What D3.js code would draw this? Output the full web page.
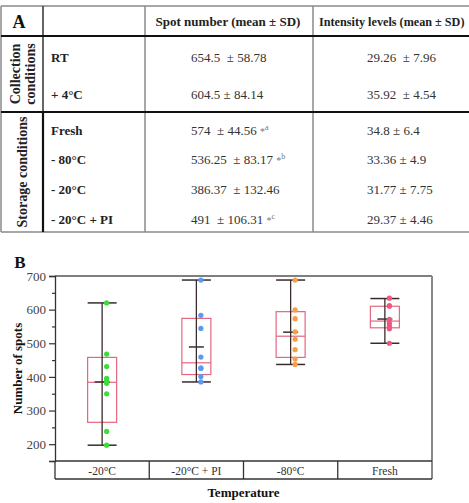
<!DOCTYPE html>
<html><head><meta charset="utf-8">
<script src="https://cdn.jsdelivr.net/npm/d3@7"></script>
<style>
html,body{margin:0;padding:0;background:#fff;}
svg{display:block;}
text{font-family:"Liberation Serif","Times New Roman",serif;}
</style></head>
<body><svg id="c" width="469" height="503"></svg>
<script>
(function(){
// ---------- Table data ----------
const tableHeaders = ["Spot number (mean \u00b1 SD)", "Intensity levels (mean \u00b1 SD)"];
const sectionLabels = [["Collection", "conditions"], ["Storage conditions"]];
const rowLabels = ["RT", "+ 4\u00b0C", "Fresh", "- 80\u00b0C", "- 20\u00b0C", "- 20\u00b0C + PI"];
const spotText = ["654.5 \u00a0\u00b1 58.78", "604.5 \u00b1 84.14", "574 \u00a0\u00b1 44.56 ", "536.25 \u00a0\u00b1 83.17 ", "386.37 \u00a0\u00b1 132.46", "491 \u00a0\u00b1 106.31 "];
const spotMark = ["", "", "*a", "*b", "", "*c"];
const intensityText = ["29.26 \u00a0\u00b1 7.96", "35.92 \u00a0\u00b1 4.54", "34.8 \u00b1 6.4", "33.36 \u00b1 4.9", "31.77 \u00b1 7.75", "29.37 \u00b1 4.46"];

// ---------- Chart data ----------
const categories = ["-20\u00b0C", "-20\u00b0C + PI", "-80\u00b0C", "Fresh"];
const whiskerLow = [197, 385, 437, 500];
const q1 = [265, 407, 458, 546];
const median = [384, 442, 521, 566];
const q3 = [458, 574, 594, 610];
const whiskerHigh = [620, 688, 688, 633];
const means = [385, 489, 533, 572];
const pointsM20 = [620, 468, 431, 396, 388, 381, 350, 238, 197];
const pointsM20PI = [688, 583, 544, 459, 426, 426, 401, 385];
const pointsM80 = [688, 599, 573, 534, 512, 481, 453, 437];
const pointsFresh = [634, 612, 610, 571, 559, 551, 543, 500];
const pointSets = [pointsM20, pointsM20PI, pointsM80, pointsFresh];
const pointColors = ["#3ddc3d", "#5b9bef", "#f5a048", "#f2557e"];
const majorTicks = [200, 300, 400, 500, 600, 700];
const minorTicks = [150, 250, 350, 450, 550, 650];

const svg = d3.select("#c");

function line(g, x1, y1, x2, y2, col, w) {
  g.append("line").attr("x1", x1).attr("y1", y1).attr("x2", x2).attr("y2", y2)
    .attr("stroke", col).attr("stroke-width", w);
}

// ================= TABLE =================
const T = svg.append("g");
const tTop = 6, tHead = 36, tMid = 112, tBot = 232;
const cx0 = 1, cx1 = 43, cx2 = 145, cx3 = 313, cxEnd = 469;
const rowY = [57, 94, 130, 159.5, 189.5, 219];

line(T, cx0, tTop, cxEnd, tTop, "#8a8a8a", 1.5);
line(T, cx0, tTop, cx0, tBot, "#8a8a8a", 1.5);
line(T, cx0, tBot, cxEnd, tBot, "#8a8a8a", 1.5);
line(T, cx2, tTop, cx2, tBot, "#8a8a8a", 1.5);
line(T, cx3, tTop, cx3, tBot, "#8a8a8a", 1.5);
line(T, cx1, tTop, cx1, tMid, "#333", 1.5);
line(T, cx1, tMid, cx1, tBot, "#111", 2.2);
line(T, cx0, tHead, cxEnd, tHead, "#111", 2);
line(T, cx0, tMid, cxEnd, tMid, "#111", 2);

T.append("text").attr("x", 19).attr("y", 28).attr("text-anchor", "middle")
  .attr("font-size", 18).attr("font-weight", "bold").attr("fill", "#111").text("A");
T.append("text").attr("x", (cx2 + cx3) / 2 - 1).attr("y", 26).attr("text-anchor", "middle")
  .attr("font-size", 13).attr("font-weight", "bold").attr("fill", "#222").text(tableHeaders[0]);
T.append("text").attr("x", 319).attr("y", 26)
  .attr("font-size", 12.2).attr("font-weight", "bold").attr("fill", "#222").text(tableHeaders[1]);

const secCenters = [(tHead + tMid) / 2, (tMid + tBot) / 2];
sectionLabels.forEach((lines, i) => {
  const xs = lines.length === 2 ? [15, 30] : [22.5];
  lines.forEach((s, j) => {
    T.append("text")
      .attr("transform", `translate(${xs[j]},${secCenters[i]}) rotate(-90)`)
      .attr("text-anchor", "middle").attr("dominant-baseline", "central")
      .attr("font-size", 14).attr("font-weight", "bold").attr("fill", "#222").text(s);
  });
});

rowLabels.forEach((s, i) => {
  T.append("text").attr("x", 51).attr("y", rowY[i] + 4.5)
    .attr("font-size", 13).attr("font-weight", "bold").attr("fill", "#222").text(s);
  const t = T.append("text").attr("x", 191).attr("y", rowY[i] + 4.5)
    .attr("font-size", 13).attr("fill", "#333");
  t.append("tspan").text(spotText[i]);
  if (spotMark[i]) {
    t.append("tspan").attr("fill", "#777").attr("font-size", 10).text(spotMark[i][0]);
    t.append("tspan").attr("fill", "#777").attr("font-size", 8).attr("dy", -5).text(spotMark[i].slice(1));
  }
  T.append("text").attr("x", 367).attr("y", rowY[i] + 4.5)
    .attr("font-size", 13).attr("fill", "#333").text(intensityText[i]);
});

// ================= CHART =================
const C = svg.append("g");
const pL = 55, pR = 432, pT = 276, pB = 461, catB = 479;
const y = d3.scaleLinear().domain([150, 700]).range([pB, pT]);
const x = d3.scaleBand().domain(categories).range([pL, pR]).padding(0);

C.append("text").attr("x", 20).attr("y", 268).attr("text-anchor", "middle")
  .attr("font-size", 17).attr("font-weight", "bold").attr("fill", "#111").text("B");

line(C, pL, pT, pR, pT, "#555", 1.3);
line(C, pR, pT, pR, catB, "#888", 2);
line(C, pL, pB, pR, pB, "#333", 1.3);
line(C, pL, catB, pR, catB, "#333", 1.3);
line(C, pL, pB, pL, catB, "#333", 1.3);
categories.slice(1).forEach(c => line(C, x(c), pB, x(c), catB, "#333", 1.3));

const ax = C.append("g").attr("transform", `translate(${pL},0)`)
  .call(d3.axisLeft(y).tickValues(majorTicks).tickSize(6).tickPadding(3));
ax.select(".domain").attr("stroke", "#333").attr("stroke-width", 1.3);
ax.selectAll(".tick line").attr("stroke", "#333").attr("stroke-width", 1.2);
ax.selectAll(".tick text").attr("font-size", 13).attr("fill", "#444")
  .attr("font-family", "'Liberation Serif','Times New Roman',serif");
const axm = C.append("g").attr("transform", `translate(${pL},0)`)
  .call(d3.axisLeft(y).tickValues(minorTicks).tickSize(3).tickFormat(""));
axm.select(".domain").remove();
axm.selectAll(".tick line").attr("stroke", "#333").attr("stroke-width", 1.2);

categories.forEach(c => {
  C.append("text").attr("x", x(c) + x.bandwidth() / 2).attr("y", 474.5)
    .attr("text-anchor", "middle").attr("font-size", 11.5).attr("fill", "#333").text(c);
});

C.append("text").attr("transform", `translate(17,${(pT + pB) / 2}) rotate(-90)`)
  .attr("text-anchor", "middle").attr("dominant-baseline", "central")
  .attr("font-size", 13).attr("font-weight", "bold").attr("fill", "#111").text("Number of spots");
C.append("text").attr("x", (pL + pR) / 2).attr("y", 497).attr("text-anchor", "middle")
  .attr("font-size", 13).attr("font-weight", "bold").attr("fill", "#111").text("Temperature");

const boxW = 29, capW = 29, meanW = 15, ptOff = 4.5;
categories.forEach((c, i) => {
  const cx = x(c) + x.bandwidth() / 2;
  const g = C.append("g");
  g.append("rect").attr("x", cx - boxW / 2).attr("y", y(q3[i]))
    .attr("width", boxW).attr("height", y(q1[i]) - y(q3[i]))
    .attr("fill", "none").attr("stroke", "#e3677f").attr("stroke-width", 1.2);
  line(g, cx - boxW / 2, y(median[i]), cx + boxW / 2, y(median[i]), "#e3677f", 1.2);
  line(g, cx, y(whiskerLow[i]), cx, y(whiskerHigh[i]), "#3a2a2c", 1.3);
  line(g, cx - capW / 2, y(whiskerHigh[i]), cx + capW / 2, y(whiskerHigh[i]), "#3a2a2c", 1.5);
  line(g, cx - capW / 2, y(whiskerLow[i]), cx + capW / 2, y(whiskerLow[i]), "#3a2a2c", 1.5);
  line(g, cx - meanW / 2, y(means[i]), cx + meanW / 2, y(means[i]), "#333", 1.5);
  g.selectAll("circle").data(pointSets[i]).join("circle")
    .attr("cx", cx + ptOff).attr("cy", d => y(d)).attr("r", 2.6)
    .attr("fill", pointColors[i]);
});
})();
</script></body></html>
